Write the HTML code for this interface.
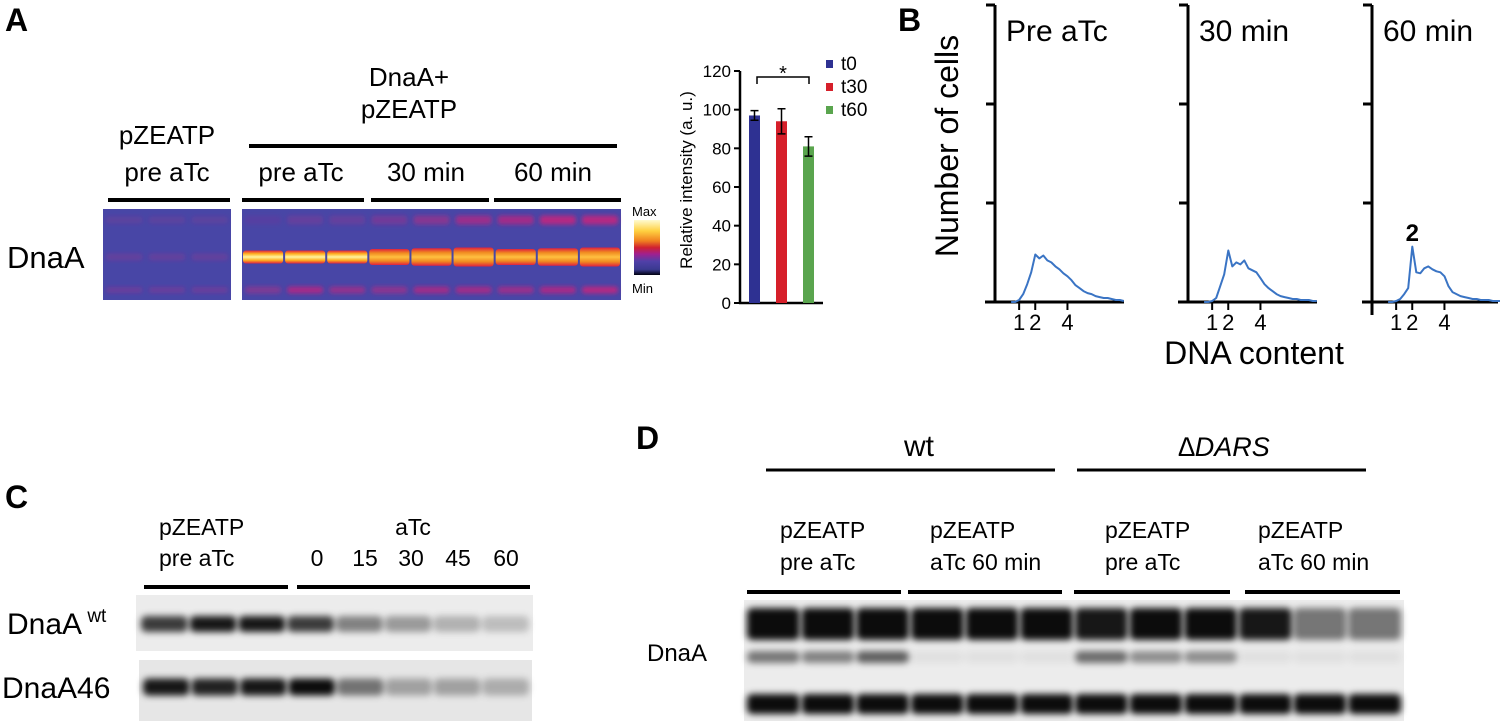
<!DOCTYPE html>
<html><head><meta charset="utf-8"><style>
html,body{margin:0;padding:0;background:#fff;}
svg{display:block;font-family:"Liberation Sans",sans-serif;}
</style></head><body>
<svg id="fig" width="1500" height="721" viewBox="0 0 1500 721" xmlns="http://www.w3.org/2000/svg">
<defs>
<filter id="blur2" x="-20%" y="-50%" width="140%" height="200%"><feGaussianBlur stdDeviation="2"/></filter>
<filter id="blur4" x="-20%" y="-80%" width="140%" height="260%"><feGaussianBlur stdDeviation="3.5"/></filter>
<linearGradient id="cbar" x1="0" y1="0" x2="0" y2="1">
<stop offset="0" stop-color="#fffbd0"/><stop offset="0.2" stop-color="#ffd040"/><stop offset="0.38" stop-color="#f08020"/>
<stop offset="0.5" stop-color="#d02030"/><stop offset="0.62" stop-color="#a02090"/><stop offset="0.75" stop-color="#5040a8"/>
<stop offset="0.9" stop-color="#3a3a90"/><stop offset="1" stop-color="#000010"/></linearGradient>
<linearGradient id="bandY" x1="0" y1="0" x2="0" y2="1">
<stop offset="0" stop-color="#e02040"/><stop offset="0.25" stop-color="#ffb020"/><stop offset="0.5" stop-color="#fff4a0"/><stop offset="0.75" stop-color="#ffb020"/><stop offset="1" stop-color="#e02040"/></linearGradient>
<linearGradient id="bandO" x1="0" y1="0" x2="0" y2="1">
<stop offset="0" stop-color="#e02040"/><stop offset="0.25" stop-color="#f08a20"/><stop offset="0.5" stop-color="#ffc040"/><stop offset="0.75" stop-color="#f08a20"/><stop offset="1" stop-color="#e02040"/></linearGradient>
</defs>

<!-- Panel A -->
<text x="5" y="31" font-size="32" font-weight="bold">A</text>
<g font-size="26" text-anchor="middle">
<text x="167" y="144">pZEATP</text><text x="167" y="181">pre aTc</text>
<text x="409" y="86">DnaA+</text><text x="409" y="118">pZEATP</text>
<text x="301" y="181">pre aTc</text><text x="426" y="181">30 min</text><text x="553" y="181">60 min</text>
</g>
<g stroke="#000" stroke-width="4">
<line x1="249" y1="146" x2="617" y2="146"/>
<line x1="108" y1="200" x2="230" y2="200"/><line x1="242" y1="200" x2="364" y2="200"/>
<line x1="371" y1="200" x2="489" y2="200"/><line x1="494" y1="200" x2="621" y2="200"/>
</g>
<text x="7" y="268" font-size="31">DnaA</text>
<g id="gelA">
<rect x="103" y="209" width="128" height="91" fill="#4846a6"/>
<rect x="242" y="209" width="379" height="91" fill="#4846a6"/>
</g>
<rect x="634" y="220" width="26" height="55" fill="url(#cbar)"/>
<text x="632" y="216" font-size="13">Max</text>
<text x="632" y="293" font-size="13">Min</text>

<!-- Bar chart -->
<g id="barchart"></g>

<!-- Panel B -->
<text x="898" y="31" font-size="32" font-weight="bold">B</text>
<text transform="translate(958,146) rotate(-90)" font-size="32" text-anchor="middle">Number of cells</text>
<text x="1254" y="364" font-size="32" text-anchor="middle">DNA content</text>
<g id="histos"></g>

<!-- Panel C -->
<text x="5" y="508" font-size="32" font-weight="bold">C</text>
<g font-size="23">
<text x="159" y="535">pZEATP</text><text x="159" y="566">pre aTc</text>
<text x="413" y="535" text-anchor="middle">aTc</text>
<g text-anchor="middle"><text x="317" y="566">0</text><text x="365" y="566">15</text><text x="411" y="566">30</text><text x="458" y="566">45</text><text x="506" y="566">60</text></g>
</g>
<g stroke="#000" stroke-width="4">
<line x1="144" y1="587" x2="288" y2="587"/><line x1="297" y1="587" x2="530" y2="587"/>
</g>
<text x="7" y="634" font-size="30">DnaA<tspan font-size="19" dy="-12"> wt</tspan></text>
<text x="2" y="698" font-size="30">DnaA46</text>
<g id="blotC">
<rect x="136" y="595" width="397" height="56" fill="#ececec"/>
<rect x="139" y="660" width="393" height="61" fill="#e6e6e6"/>
</g>

<!-- Panel D -->
<text x="636" y="449" font-size="32" font-weight="bold">D</text>
<text x="919" y="456" font-size="30" text-anchor="middle">wt</text>
<text x="1224" y="456" font-size="27" text-anchor="middle" font-style="italic">∆DARS</text>
<g stroke="#000" stroke-width="3">
<line x1="766" y1="470" x2="1055" y2="470"/><line x1="1077" y1="470" x2="1366" y2="470"/>
</g>
<g font-size="23">
<text x="780" y="538">pZEATP</text><text x="780" y="570">pre aTc</text>
<text x="930" y="538">pZEATP</text><text x="930" y="570">aTc 60 min</text>
<text x="1105" y="538">pZEATP</text><text x="1105" y="570">pre aTc</text>
<text x="1258" y="538">pZEATP</text><text x="1258" y="570">aTc 60 min</text>
</g>
<g stroke="#000" stroke-width="4">
<line x1="747" y1="592" x2="901" y2="592"/><line x1="908" y1="592" x2="1062" y2="592"/>
<line x1="1074" y1="592" x2="1230" y2="592"/><line x1="1245" y1="592" x2="1400" y2="592"/>
</g>
<text x="647" y="661" font-size="24">DnaA</text>
<g id="blotD">
<rect x="744" y="600" width="660" height="121" fill="#ececec"/>
</g>
</svg>
<script>
// ---- Bar chart data ----
const barCats = ["t0","t30","t60"];
const barVals = [97, 94, 81];
const barErr = [2.5, 6.5, 5];
const barColors = ["#2e3192","#d61f2a","#5aa54e"];
const yTicks = [0,20,40,60,80,100,120];

// ---- Histogram data ----
const dnaX = [0.5,0.75,1.0,1.25,1.5,1.75,2.0,2.25,2.5,2.75,3.0,3.25,3.5,3.75,4.0,4.25,4.5,4.75,5.0,5.25,5.5,5.75,6.0,6.25,6.5,6.75,7.0,7.25,7.5];
const histPre = [0,0,2,8,18,30,48,44,47,42,40,36,33,29,26,22,17,14,11,9,8,6,5,4,4,3,2,2,1];
const hist30 = [0,0,1,4,16,28,52,36,40,38,42,34,32,30,24,18,14,11,8,6,5,4,3,3,2,2,2,1,1];
const hist60 = [0,0,1,3,8,14,56,30,29,34,36,33,31,30,26,16,10,8,6,5,4,3,3,2,2,2,1,1,1];
const histTitles = ["Pre aTc","30 min","60 min"];
const xTickVals = [1,2,4];

// ---- Blot lane intensities ----
const gelLeftTop = [0.15,0.15,0.15], gelLeftMid=[0.2,0.2,0.2], gelLeftBot=[0.25,0.25,0.25];
const gelRightMid = [1,1,1,0.8,0.8,0.8,0.8,0.8,0.8];
const gelRightTop = [0.1,0.2,0.2,0.3,0.45,0.6,0.65,0.8,0.8];
const gelRightBot = [0.4,0.7,0.55,0.5,0.65,0.65,0.6,0.7,0.8];
const blotCwt = [0.75,0.9,0.9,0.75,0.45,0.35,0.25,0.2];
const blotC46 = [0.9,0.85,0.9,0.95,0.5,0.3,0.3,0.25];
const blotDTop = [0.95,0.95,0.95,0.95,0.95,0.95,0.9,0.95,0.95,0.9,0.5,0.5];
const blotDMid = [0.5,0.45,0.6,0.05,0.05,0.05,0.55,0.4,0.4,0.05,0.05,0.05];
const blotDBot = [0.95,0.95,0.95,0.95,0.95,0.95,0.95,0.95,0.95,0.95,0.95,0.95];

const NS="http://www.w3.org/2000/svg";
function mk(tag, attrs, parent){const e=document.createElementNS(NS,tag);for(const k in attrs)e.setAttribute(k,attrs[k]);parent.appendChild(e);return e;}

// Bar chart
(function(){
  const g=document.getElementById('barchart');
  const x0=740, y0=303, yTop=71, vmax=120;
  const y=v=>y0-(v/vmax)*(y0-yTop);
  const barX=[749,776,803], bw=11;
  let e=mk('line',{x1:x0,y1:yTop,x2:x0,y2:y0,stroke:'#000','stroke-width':2.5},g);
  
  
  e=mk('line',{x1:x0-1,y1:y0,x2:823,y2:y0,stroke:'#000','stroke-width':2.5},g);
  
  
  yTicks.forEach(t=>{
    const l=mk('line',{x1:x0-6,y1:y(t),x2:x0,y2:y(t),stroke:'#000','stroke-width':2},g);
    
    
    const tx=mk('text',{x:x0-9,y:y(t)+6,'font-size':17,'text-anchor':'end'},g);
    tx.textContent=t;
    
    
  });
  const tt=mk('text',{transform:'translate(692,180) rotate(-90)','font-size':17,'text-anchor':'middle'},g);
  tt.textContent='Relative intensity (a. u.)';
  
  
  barVals.forEach((v,i)=>{
    const r=mk('rect',{x:barX[i],y:y(v),width:bw,height:y0-y(v),fill:barColors[i]},g);
    
    
    const cx=barX[i]+bw/2, hi=y(v+barErr[i]), lo=y(v-barErr[i]);
    const p=mk('path',{d:`M${cx},${hi}V${lo}M${cx-4},${hi}H${cx+4}M${cx-4},${lo}H${cx+4}`,stroke:'#000','stroke-width':1.5,fill:'none'},g);
    
    
    const ls=mk('rect',{x:826,y:60+i*23,width:7,height:8,fill:barColors[i]},g);
    
    
    const lt=mk('text',{x:841,y:70+i*23,'font-size':19},g);
    lt.textContent=barCats[i];
    
    
  });
  const b=mk('path',{d:'M757,84V77H809V84',stroke:'#000','stroke-width':1.5,fill:'none'},g);
  
  
  const s=mk('text',{x:783,y:80,'font-size':20,'text-anchor':'middle'},g);
  s.textContent='*';
  
  
})();

// Histograms
(function(){
  const g=document.getElementById('histos');
  const axes=[995,1188,1372], yBase=302, yTopA=5, cmax=300;
  const series=[histPre,hist30,hist60];
  const ends=[1124,1317,1498];
  series.forEach((data,k)=>{
    const ax=axes[k];
    const xs=v=>ax+(v+0.5)*16.1;
    const ys=c=>yBase-(c/cmax)*(yBase-yTopA);
    let e=mk('line',{x1:ax,y1:yTopA,x2:ax,y2:k==2?315:yBase,stroke:'#000','stroke-width':3},g);
    
    
    e=mk('line',{x1:ax-10,y1:yBase,x2:ends[k],y2:yBase,stroke:'#000','stroke-width':3},g);
    
    
    [100,200,300].forEach(t=>{
      const l=mk('line',{x1:ax-9,y1:ys(t),x2:ax,y2:ys(t),stroke:'#000','stroke-width':3},g);
      
      
    });
    xTickVals.forEach(t=>{
      const l=mk('line',{x1:xs(t),y1:yBase,x2:xs(t),y2:yBase+8,stroke:'#000','stroke-width':2},g);
      
      
      const tx=mk('text',{x:xs(t),y:330,'font-size':22,'text-anchor':'middle'},g);
      tx.textContent=t;
      
      
    });
    const d=data.map((c,i)=>(i?'L':'M')+xs(dnaX[i]).toFixed(1)+','+ys(c).toFixed(1)).join('');
    const p=mk('path',{d:d,stroke:'#3a74c4','stroke-width':2,fill:'none','stroke-linejoin':'round'},g);
    
    
    const t=mk('text',{x:ax+11,y:41,'font-size':30},g);
    t.textContent=histTitles[k];
    
    
    if(k==2){
      const lab=mk('text',{x:xs(2),y:241,'font-size':24,'font-weight':'bold','text-anchor':'middle'},g);
      lab.textContent='2';
      
      
    }
  });
})();

// Gel heatmap A
(function(){
  const g=document.getElementById('gelA');
  function lanes(x0,w,vals,cy,h,fn,name){
    const lw=w/vals.length;
    vals.forEach((v,i)=>{
      const r=mk('rect',{x:x0+i*lw+3,y:cy-h/2,width:lw-6,height:h,rx:3,...fn(v),filter:'url(#blur2)'},g);
      
      
    });
  }
  const mag=v=>({fill:'#d0207a','fill-opacity':v});
  lanes(103,128,gelLeftTop,220,7,mag,'gel-band-top');
  lanes(103,128,gelLeftMid,257,7,mag,'gel-band-main');
  lanes(103,128,gelLeftBot,290,6,mag,'gel-band-bottom');
  lanes(242,379,gelRightTop,220,9,mag,'gel-band-top');
  const lw=379/gelRightMid.length;
  gelRightMid.forEach((v,i)=>{
    const h=v>0.9?13:16+ (i%3)*1.5;
    const r=mk('rect',{x:242+i*lw+1,y:257-h/2,width:lw-2,height:h,rx:3,fill:v>0.9?'url(#bandY)':'url(#bandO)'},g);
    
    
  });
  lanes(242,379,gelRightBot,290,7,mag,'gel-band-bottom');
})();

// Western blots
function blot(gid,x0,w,vals,cy,h,name){
  const g=document.getElementById(gid);
  const lw=w/vals.length;
  vals.forEach((v,i)=>{
    const r=mk('rect',{x:x0+i*lw+1,y:cy-h/2,width:lw-2,height:h,rx:5,fill:'#000','fill-opacity':v,filter:'url(#blur4)'},g);
    
    
  });
}
blot('blotC',140,390,blotCwt,624,16,'blot-c-wt-band');
blot('blotC',142,388,blotC46,687,17,'blot-c-46-band');
blot('blotD',746,656,blotDTop,624,32,'blot-d-top-band');
blot('blotD',746,656,blotDMid,657,12,'blot-d-mid-band');
blot('blotD',746,656,blotDBot,704,20,'blot-d-bottom-band');
</script>
</body></html>
